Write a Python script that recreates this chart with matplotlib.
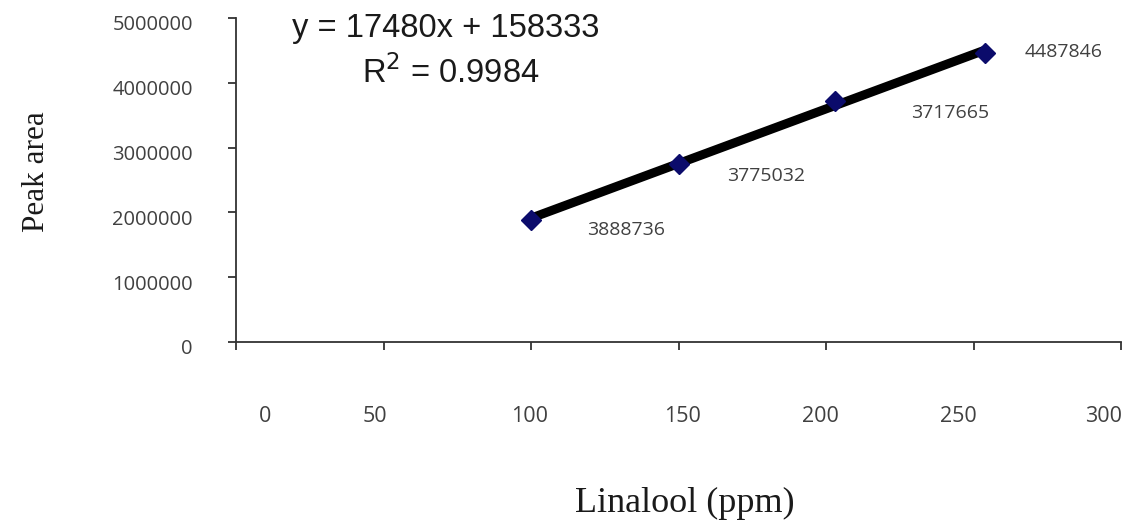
import numpy as np
import matplotlib
matplotlib.use("Agg")
import matplotlib.pyplot as plt
import matplotlib.transforms as mtransforms

# Data
conc = [100, 150, 203, 254]
peak_area = [1890000, 2750000, 3720000, 4460000]
point_labels = ["3888736", "3775032", "3717665", "4487846"]
label_offsets_px = [(95, -10), (88, -12), (115, -12), (78, 1)]
x_ticks = [0, 50, 100, 150, 200, 250, 300]
x_label_pos = [9.8, 47.1, 99.5, 151.5, 198, 245, 294]   # where the x labels sit (shifted from ticks)
y_ticks = [0, 1000000, 2000000, 3000000, 4000000, 5000000]
equation = "y = 17480x + 158333"
r2_text = "R$^2$ = 0.9984"

W, H = 1137, 527
fig = plt.figure(figsize=(W / 100, H / 100), dpi=100)
ax = fig.add_axes([236 / W, 1 - 342 / H, (1121 - 236) / W, (342 - 18) / H])
ax.xaxis.remove_overlapping_locs = False

ax.set_xlim(0, 300)
ax.set_ylim(0, 5000000)

# trendline (linear fit of the data)
coef = np.polyfit(conc, peak_area, 1)
xs = np.array([conc[0], conc[-1]])
ax.plot(xs, np.polyval(coef, xs), color="black", lw=6.5, solid_capstyle="butt", zorder=2)
ax.plot(conc, peak_area, linestyle="none", marker="D", color="#0b0b6b", markersize=10, zorder=3)

tick_col = "#404040"
for x, y, lab, off in zip(conc, peak_area, point_labels, label_offsets_px):
    ax.annotate(lab, (x, y), xytext=off, textcoords="offset pixels", ha="center", va="center",
                fontsize=14, color=tick_col, family="Open Sans")

for s in ["top", "right"]:
    ax.spines[s].set_visible(False)
for s in ["left", "bottom"]:
    ax.spines[s].set_color("#333333")
    ax.spines[s].set_linewidth(1.3)

# major ticks: marks only; minor ticks: labels only (shifted like the reference)
ax.set_xticks(x_ticks)
ax.set_xticklabels([])
ax.set_xticks(x_label_pos, minor=True)
ax.set_xticklabels([str(v) for v in x_ticks], minor=True)
ax.tick_params(axis="x", which="major", direction="out", length=6, width=1.3, color="#333333")
ax.tick_params(axis="x", which="minor", length=0, pad=46, labelsize=15.5, labelcolor=tick_col)

ax.set_yticks(y_ticks)
ax.set_yticklabels([str(v) for v in y_ticks])
ax.tick_params(axis="y", direction="out", length=6, width=1.3, color="#333333", pad=25,
               labelsize=14.5, labelcolor=tick_col)
ax.tick_params(axis="y", which="minor", left=False)
shift = mtransforms.ScaledTranslation(0, -5 / 100, fig.dpi_scale_trans)
for t in ax.get_yticklabels():
    t.set_family("Open Sans")
    t.set_transform(t.get_transform() + shift)
for t in ax.get_xticklabels(minor=True):
    t.set_family("Open Sans")

fig.text(292 / W, 1 - 37 / H, equation, ha="left", va="baseline", fontsize=23.5,
         family="Liberation Sans", color="#1a1a1a")
fig.text(362 / W, 1 - 83 / H, r2_text, ha="left", va="baseline", fontsize=23.5,
         family="Liberation Sans", color="#1a1a1a")

fig.text(37 / W, 1 - 172 / H, "Peak area", rotation=90, ha="center", va="center",
         fontsize=22.5, family="Liberation Serif", color="#1a1a1a")
fig.text(685 / W, 1 - 503 / H, "Linalool (ppm)", ha="center", va="center",
         fontsize=26, family="Liberation Serif", color="#1a1a1a")

fig.savefig("out.png", dpi=100)
